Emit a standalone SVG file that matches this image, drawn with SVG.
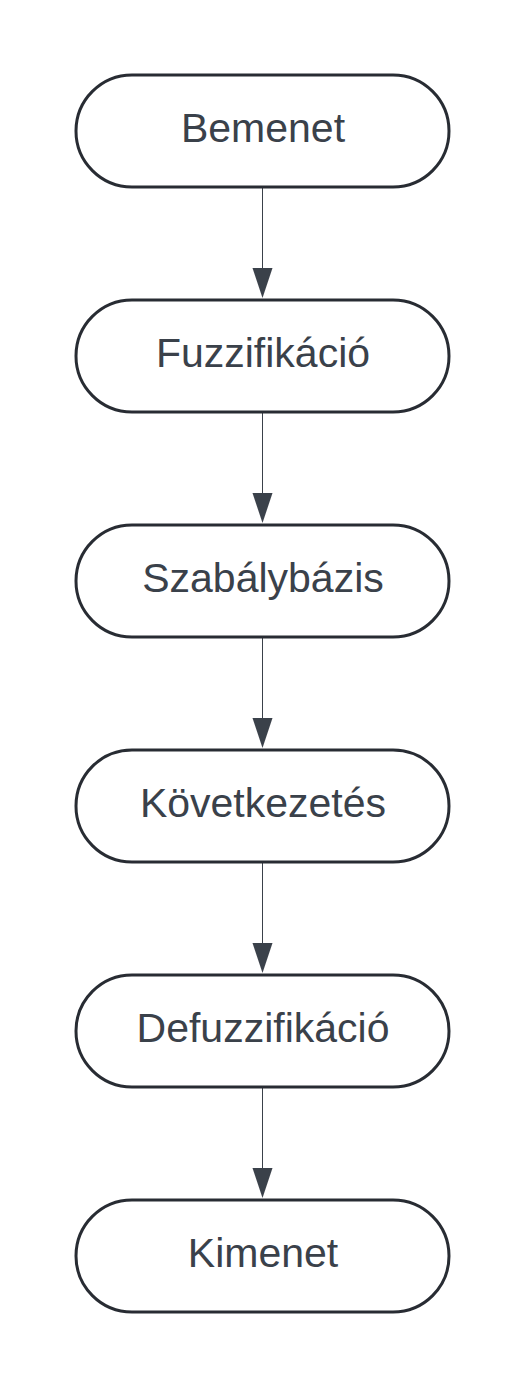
<svg xmlns="http://www.w3.org/2000/svg" width="525" height="1388" viewBox="0 0 525 1388">
<style>
.n{fill:#ffffff;stroke:#282c33;stroke-width:3}
.t{font-family:"Liberation Sans",Arial,sans-serif;font-size:41px;fill:#3a414a;text-anchor:middle}
.c{stroke:#3a414a;stroke-width:1;fill:none}
.a{fill:#3a414a}
</style>
<rect width="525" height="1388" fill="#ffffff"/>
<g id="connectors">
<line class="c" x1="262.5" y1="188" x2="262.5" y2="268"/>
<path class="a" d="M252.5,268 L272.5,268 L262.5,298 Z"/>
<line class="c" x1="262.5" y1="413" x2="262.5" y2="493"/>
<path class="a" d="M252.5,493 L272.5,493 L262.5,523 Z"/>
<line class="c" x1="262.5" y1="638" x2="262.5" y2="718"/>
<path class="a" d="M252.5,718 L272.5,718 L262.5,748 Z"/>
<line class="c" x1="262.5" y1="863" x2="262.5" y2="943"/>
<path class="a" d="M252.5,943 L272.5,943 L262.5,973 Z"/>
<line class="c" x1="262.5" y1="1088" x2="262.5" y2="1168"/>
<path class="a" d="M252.5,1168 L272.5,1168 L262.5,1198 Z"/>
</g>
<g id="node-bemenet">
<rect class="n" x="76" y="75" width="373" height="112" rx="56" ry="56"/>
<text class="t" x="263" y="142">Bemenet</text>
</g>
<g id="node-fuzzifikacio">
<rect class="n" x="76" y="300" width="373" height="112" rx="56" ry="56"/>
<text class="t" x="263" y="367">Fuzzifikáció</text>
</g>
<g id="node-szabalybazis">
<rect class="n" x="76" y="525" width="373" height="112" rx="56" ry="56"/>
<text class="t" x="263" y="592">Szabálybázis</text>
</g>
<g id="node-kovetkeztetes">
<rect class="n" x="76" y="750" width="373" height="112" rx="56" ry="56"/>
<text class="t" x="263" y="817">Következetés</text>
</g>
<g id="node-defuzzifikacio">
<rect class="n" x="76" y="975" width="373" height="112" rx="56" ry="56"/>
<text class="t" x="263" y="1042">Defuzzifikáció</text>
</g>
<g id="node-kimenet">
<rect class="n" x="76" y="1200" width="373" height="112" rx="56" ry="56"/>
<text class="t" x="263" y="1267">Kimenet</text>
</g>
</svg>
